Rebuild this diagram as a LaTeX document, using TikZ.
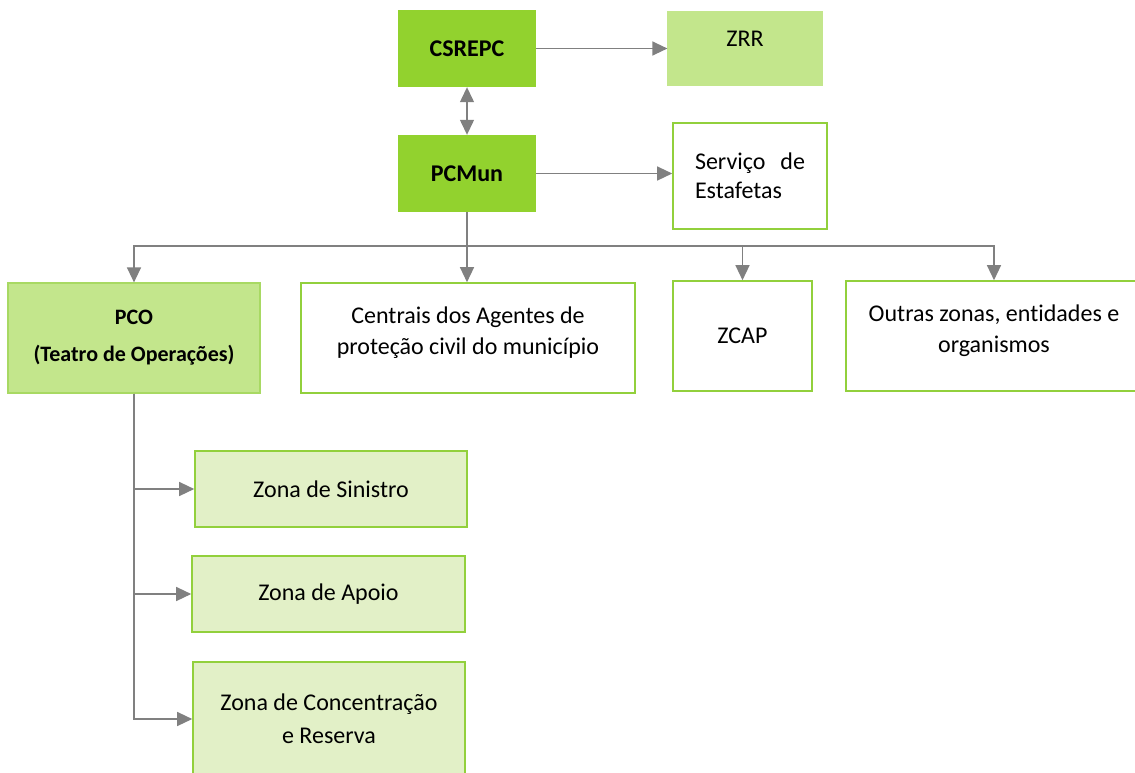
\documentclass[tikz,border=0pt]{standalone}
\usepackage{fontspec}
\setmainfont{Carlito}[Ligatures={NoCommon}]
\usepackage{xcolor}
\usetikzlibrary{arrows.meta, positioning}
\definecolor{cmdGreen}{RGB}{146,210,46}
\definecolor{softGreen}{RGB}{195,230,140}
\definecolor{paleGreen}{RGB}{226,240,199}
\definecolor{edgeGreen}{RGB}{146,208,60}
\definecolor{arrowGray}{RGB}{128,128,128}
\tikzset{
    cmdbox/.style={
        rectangle,
        draw=none,
        align=center,
        fill=cmdGreen,
        minimum width=138pt,
        minimum height=77pt,
        font=\fontsize{24}{28}\selectfont\bfseries
    },
    zonebox/.style={
        rectangle,
        draw=softGreen!85!edgeGreen,
        line width=1.2pt,
        align=center,
        fill=softGreen,
        font=\fontsize{24}{30}\selectfont
    },
    unitbox/.style={
        rectangle,
        draw=edgeGreen,
        line width=1.6pt,
        align=center,
        fill=white,
        font=\fontsize{24}{31}\selectfont
    },
    areabox/.style={
        unitbox,
        fill=paleGreen
    },
    flowarrow/.style={-{Triangle[length=15pt, width=14pt]}, line width=1.3pt, draw=arrowGray},
    twowayarrow/.style={{Triangle[length=15pt, width=14pt]}-{Triangle[length=15pt, width=14pt]}, line width=1.3pt, draw=arrowGray},
    busline/.style={line width=1.3pt, draw=arrowGray}
}
\begin{document}
\begin{tikzpicture}[x=1pt, y=-1pt]
            \useasboundingbox (0,0) rectangle (1135,772);
            \node[cmdbox] (csrepc) at (467,48.5) {CSREPC};
            \node[zonebox, draw=softGreen, minimum width=154pt, minimum height=73pt, text depth=20pt] (zrr) at (745,48.5) {ZRR};
            \node[cmdbox] (pcmun) at (467,173.5) {PCMun};
            \node[unitbox, minimum width=154pt, minimum height=106pt, text width=110pt, align=left, font=\fontsize{24}{29}\selectfont] (estafetas) at (750,176) {Servi\c{c}o\hfill de\\Estafetas};
            \node[zonebox, draw=edgeGreen!80, minimum width=252pt, minimum height=110pt, font=\fontsize{22}{37}\selectfont\bfseries] (pco) at (134,338) {PCO\\(Teatro de Opera\c{c}\~oes)};
            \node[unitbox, minimum width=334pt, minimum height=110pt, text depth=14pt] (centrais) at (468,338) {Centrais dos Agentes de\\prote\c{c}\~ao civil do munic\'ipio};
            \node[unitbox, minimum width=139pt, minimum height=110pt] (zcap) at (742.5,336) {ZCAP};
            \node[unitbox, minimum width=296pt, minimum height=110pt, text depth=14pt] (outras) at (994,336) {Outras zonas, entidades e\\organismos};
            \node[areabox, minimum width=272pt, minimum height=76pt] (sinistro) at (331,489) {Zona de Sinistro};
            \node[areabox, minimum width=273pt, minimum height=76pt] (apoio) at (328.5,594) {Zona de Apoio};
            \node[areabox, minimum width=272pt, minimum height=114pt, font=\fontsize{24}{33}\selectfont] (reserva) at (329,719) {Zona de Concentra\c{c}\~ao\\e Reserva};
            \coordinate (bus) at (467,246);
            \draw[flowarrow] (csrepc) -- (zrr);
            \draw[twowayarrow] (csrepc) -- (pcmun);
            \draw[flowarrow] (pcmun.east) -- (pcmun.east -| estafetas.west);
            \draw[flowarrow] (pcmun.south) -- (pcmun.south |- centrais.north);
            \draw[flowarrow] (bus) -| (pco);
            \draw[flowarrow] (bus) -| (zcap);
            \draw[flowarrow] (bus) -| (outras);
            \draw[flowarrow] (pco.south) |- (sinistro);
            \draw[flowarrow] (pco.south) |- (apoio);
            \draw[flowarrow] (pco.south) |- (reserva);
        \end{tikzpicture}
\end{document}
